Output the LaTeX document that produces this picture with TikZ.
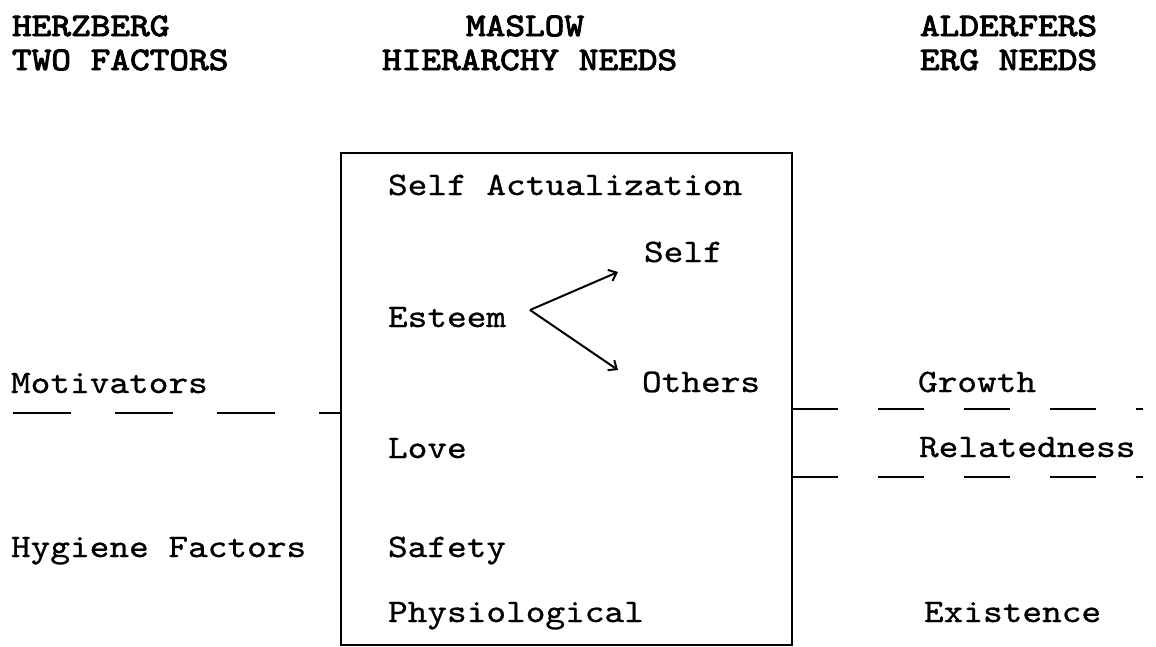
\documentclass[tikz,border=0pt]{standalone}
\usepackage{fontspec}
\newfontfamily\courfont[FakeStretch=1.143,FakeBold=0.8]{lmmono10-regular.otf}
\newfontfamily\courbold[FakeStretch=1.143,FakeBold=3]{lmmono10-regular.otf}
\usetikzlibrary{arrows.meta}
\tikzset{
  lbl/.style={anchor=base west, inner sep=0pt, outer sep=0pt, font=\fontsize{32.8}{38}\courfont},
  head/.style={lbl, font=\fontsize{32.8}{38}\courbold},
  frame/.style={draw=black, line width=2pt},
  divider/.style={draw=black, line width=2pt, dash pattern=on 46pt off 40pt},
  ldivider/.style={draw=black, line width=2pt, dash pattern=on 58pt off 44pt},
  branch/.style={draw=black, line width=2pt, -{Straight Barb[length=7pt,width=12pt,line width=2pt]}}
}
\begin{document}
\begin{tikzpicture}[x=1pt,y=-1pt]
\useasboundingbox (0,0) rectangle (1156,646);
% headings
\node[head] (h1a) at (12,36) {HERZBERG};
\node[head] (h1b) at (12,70) {TWO FACTORS};
\node[head] (h2a) at (466,36) {MASLOW};
\node[head] (h2b) at (382,70) {HIERARCHY NEEDS};
\node[head] (h3a) at (920,36) {ALDERFERS};
\node[head] (h3b) at (920,70) {ERG NEEDS};
% box
\draw[frame] (341,153) rectangle (792,645);
% box contents
\node[lbl] (sa) at (388,195) {Self Actualization};
\node[lbl] (self) at (644,262) {Self};
\node[lbl] (est) at (388,327) {Esteem};
\node[lbl] (oth) at (642,392) {Others};
\node[lbl] (love) at (388,458) {Love};
\node[lbl] (saf) at (388,557) {Safety};
\node[lbl] (phys) at (388,622) {Physiological};
% left
\node[lbl] (mot) at (11,393) {Motivators};
\node[lbl] (hyg) at (11,557) {Hygiene Factors};
% right
\node[lbl] (gro) at (918,392) {Growth};
\node[lbl] (rel) at (919,457) {Relatedness};
\node[lbl] (exi) at (924,622) {Existence};
% arrows
\coordinate (v) at (530,310);
\coordinate (tself) at (618,272);
\coordinate (toth) at (618,370);
\draw[branch] (v) -- (tself);
\draw[branch] (v) -- (toth);
% dashed dividers
\coordinate (l1) at (13,413);
\coordinate (l2) at (341,413);
\draw[ldivider] (l1) -- (l2);
\coordinate (r1a) at (792,409);
\coordinate (r1b) at (1143,409);
\draw[divider] (r1a) -- (r1b);
\coordinate (r2a) at (792,477);
\coordinate (r2b) at (1143,477);
\draw[divider] (r2a) -- (r2b);
\end{tikzpicture}
\end{document}
